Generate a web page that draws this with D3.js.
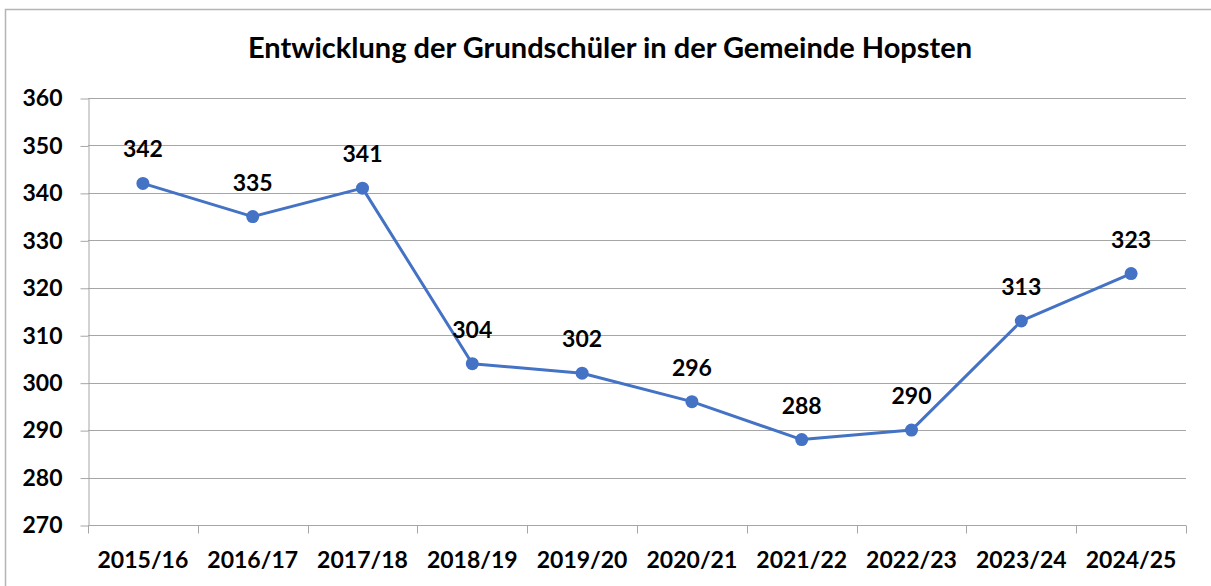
<!DOCTYPE html>
<html>
<head>
<meta charset="utf-8">
<script src="https://cdn.jsdelivr.net/npm/d3@7"></script>
<style>
  body { margin: 0; background: #fff; }
  svg { display: block; font-family: Lato, Carlito, "DejaVu Sans", sans-serif; }
</style>
</head>
<body>
<svg id="chart" width="1211" height="586"></svg>
<script>
// data
var years = ["2015/16", "2016/17", "2017/18", "2018/19", "2019/20",
             "2020/21", "2021/22", "2022/23", "2023/24", "2024/25"];
var pupils = [342, 335, 341, 304, 302, 296, 288, 290, 313, 323];
var yTicks = [270, 280, 290, 300, 310, 320, 330, 340, 350, 360];
var title = "Entwicklung der Grundschüler in der Gemeinde Hopsten";

var svg = d3.select("#chart"),
    plotLeft = 88, plotRight = 1186, plotTop = 98, plotBottom = 525,
    blue = "#4472c4",
    grey = "#a6a6a6";

// outer frame (runs off the right and bottom edge like the original)
svg.append("rect")
    .attr("x", 5.5).attr("y", 9.5)
    .attr("width", 1220).attr("height", 600)
    .attr("fill", "none").attr("stroke", "#b4b4b4").attr("stroke-width", 1.5);

var x = d3.scaleBand().domain(years).range([plotLeft, plotRight]).padding(0);
var y = d3.scaleLinear().domain([270, 360]).range([plotBottom, plotTop]);

// gridlines
svg.append("g").selectAll("line").data(yTicks.slice(1)).enter().append("line")
    .attr("x1", plotLeft).attr("x2", plotRight)
    .attr("y1", function (d) { return Math.round(y(d)) + 0.5; })
    .attr("y2", function (d) { return Math.round(y(d)) + 0.5; })
    .attr("stroke", grey).attr("stroke-width", 1);

// y axis
var yAxis = svg.append("g")
    .attr("transform", "translate(" + (plotLeft + 0.5) + ",0.5)")
    .call(d3.axisLeft(y).tickValues(yTicks).tickSize(8).tickPadding(18).tickSizeOuter(0));
yAxis.select(".domain").attr("stroke", grey);
yAxis.selectAll(".tick line").attr("stroke", grey);
yAxis.selectAll(".tick text")
    .attr("font-size", 23).attr("font-weight", "bold").attr("fill", "#000")
    .attr("font-family", "Lato, sans-serif");

// x axis with ticks between categories
var xAxis = svg.append("g").attr("transform", "translate(0," + (Math.round(plotBottom) + 0.5) + ")");
xAxis.append("line").attr("x1", plotLeft).attr("x2", plotRight).attr("stroke", grey);
var edges = years.map(function (d) { return x(d); }).concat([plotRight]);
xAxis.selectAll(".edge").data(edges).enter().append("line")
    .attr("class", "edge")
    .attr("x1", function (d) { return Math.round(d) + 0.5; })
    .attr("x2", function (d) { return Math.round(d) + 0.5; })
    .attr("y1", 0).attr("y2", 8)
    .attr("stroke", grey);
xAxis.selectAll("text").data(years).enter().append("text")
    .attr("x", function (d) { return x(d) + x.bandwidth() / 2; })
    .attr("y", 42)
    .attr("text-anchor", "middle")
    .attr("font-size", 23).attr("font-weight", "bold")
    .text(function (d) { return d; });

// line + points
var line = d3.line()
    .x(function (d, i) { return x(years[i]) + x.bandwidth() / 2; })
    .y(function (d) { return y(d); });

svg.append("path").datum(pupils)
    .attr("d", line)
    .attr("fill", "none").attr("stroke", blue).attr("stroke-width", 3)
    .attr("stroke-linejoin", "round");

svg.append("g").selectAll("circle").data(pupils).enter().append("circle")
    .attr("cx", function (d, i) { return x(years[i]) + x.bandwidth() / 2; })
    .attr("cy", function (d) { return y(d); })
    .attr("r", 6.5)
    .attr("fill", blue);

// value labels
svg.append("g").selectAll("text").data(pupils).enter().append("text")
    .attr("x", function (d, i) { return x(years[i]) + x.bandwidth() / 2; })
    .attr("y", function (d) { return y(d) - 26; })
    .attr("text-anchor", "middle")
    .attr("font-size", 23).attr("font-weight", "bold")
    .text(function (d) { return d; });

// title
svg.append("text")
    .attr("x", 610).attr("y", 58)
    .attr("text-anchor", "middle")
    .attr("font-size", 29).attr("font-weight", "bold")
    .text(title);
</script>
</body>
</html>
